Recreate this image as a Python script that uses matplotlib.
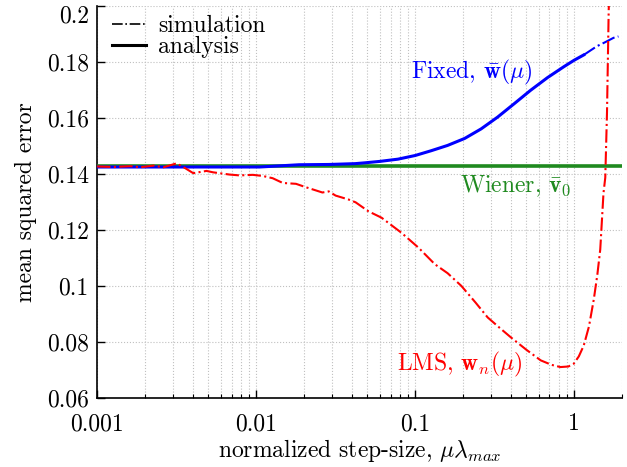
import matplotlib
matplotlib.use("Agg")
import matplotlib.pyplot as plt
from matplotlib.ticker import FixedLocator, LogLocator, NullFormatter

plt.rcParams['font.family'] = 'serif'
plt.rcParams['font.serif'] = ['cmr10', 'DejaVu Serif']
plt.rcParams['mathtext.fontset'] = 'cm'
plt.rcParams['axes.unicode_minus'] = False
plt.rcParams['axes.formatter.use_mathtext'] = True

# LMS simulation (red, dash-dot)
lms_mu = [0.001, 0.00127, 0.00162, 0.00186, 0.00226, 0.00261, 0.00316, 0.00348, 0.00402, 0.00487,
          0.00536, 0.00681, 0.00786, 0.00953, 0.011, 0.0127, 0.0147, 0.0178, 0.0205, 0.0261,
          0.0286, 0.0316, 0.0381, 0.0422, 0.0508, 0.0615, 0.0821, 0.105, 0.133, 0.16,
          0.195, 0.24, 0.286, 0.34, 0.40, 0.50, 0.616, 0.72, 0.82, 0.92,
          0.995, 1.07, 1.15, 1.24, 1.33, 1.40, 1.46, 1.53, 1.57, 1.61,
          1.65, 1.68]
lms_mse = [0.1426, 0.1424, 0.1427, 0.1423, 0.1429, 0.1423, 0.1437, 0.1424, 0.1402, 0.1410,
           0.1405, 0.1397, 0.1394, 0.1396, 0.1392, 0.1384, 0.1367, 0.1364, 0.1352, 0.1333,
           0.1337, 0.1322, 0.1308, 0.1298, 0.1266, 0.1243, 0.1189, 0.1136, 0.1077, 0.1045,
           0.1000, 0.0940, 0.0887, 0.0850, 0.0816, 0.0772, 0.0734, 0.0718, 0.0710, 0.0712,
           0.0722, 0.0748, 0.0787, 0.0855, 0.0952, 0.1040, 0.1130, 0.1331, 0.1386, 0.1620,
           0.1985, 0.2100]

# Fixed analysis (blue, solid)
fix_mu = [0.001, 0.002, 0.005, 0.0105, 0.014, 0.0186, 0.0286, 0.042, 0.0485, 0.06,
          0.078, 0.1, 0.126, 0.16, 0.205, 0.26, 0.33, 0.42, 0.533, 0.68,
          0.862, 1.0, 1.15]
fix_mse = [0.1424, 0.1424, 0.1424, 0.1424, 0.1428, 0.1432, 0.1433, 0.1436, 0.1439, 0.1444,
           0.1452, 0.1465, 0.1482, 0.1501, 0.1526, 0.1560, 0.1602, 0.1650, 0.1698, 0.1743,
           0.1782, 0.1805, 0.1824]

# Fixed simulation tail (blue, dash-dot)
fixsim_mu = [1.15, 1.39, 1.55, 1.77, 1.9]
fixsim_mse = [0.1824, 0.1855, 0.1868, 0.1885, 0.1890]

# Wiener analysis (green, solid)
wiener_mu = [0.001, 2.0]
wiener_mse = [0.1429, 0.1429]

fig = plt.figure(figsize=(6.27, 4.67), dpi=100)
ax = fig.add_axes([0.155, 0.148, 0.837, 0.84])

ax.plot(wiener_mu, wiener_mse, color='#1f8a1f', lw=2.6, solid_capstyle='butt', zorder=3)
ax.plot(fix_mu, fix_mse, color='#0000ff', lw=2.2, zorder=4)
ax.plot(fixsim_mu, fixsim_mse, color='#0000ff', lw=1.5, ls='-.', zorder=4)
ax.plot(lms_mu, lms_mse, color='#ff0000', lw=1.5, ls='-.', zorder=5)

# legend entries
ax.plot([], [], color='black', lw=1.2, ls='-.', label='simulation')
ax.plot([], [], color='black', lw=2.2, ls='-', label='analysis')
leg = ax.legend(loc='upper left', frameon=False, fontsize=17, handlelength=1.45,
                borderaxespad=0.0, labelspacing=-0.05, handletextpad=0.5,
                bbox_to_anchor=(0.01, 1.0))

ax.set_xscale('log')
ax.set_xlim(0.001, 2.0)
ax.set_ylim(0.06, 0.2)
ax.xaxis.set_major_locator(FixedLocator([0.001, 0.01, 0.1, 1]))
ax.set_xticklabels(['0.001', '0.01', '0.1', '1'])
ax.xaxis.set_minor_locator(LogLocator(base=10, subs=[2, 3, 4, 5, 6, 7, 8, 9], numticks=20))
ax.xaxis.set_minor_formatter(NullFormatter())
yt = [0.06, 0.08, 0.1, 0.12, 0.14, 0.16, 0.18, 0.2]
ax.set_yticks(yt)
ax.set_yticklabels(['0.06', '0.08', '0.1', '0.12', '0.14', '0.16', '0.18', '0.2'])

ax.tick_params(axis='both', which='both', direction='in', labelsize=17, top=False, right=False)
ax.tick_params(axis='both', which='major', length=6, width=1.0)
ax.tick_params(axis='y', which='major', pad=6)
ax.tick_params(axis='x', which='major', pad=11)
ax.tick_params(axis='x', which='minor', length=3, width=0.8)
ax.spines['top'].set_visible(False)
ax.spines['right'].set_visible(False)
ax.spines['left'].set_linewidth(1.2)
ax.spines['bottom'].set_linewidth(1.2)

# keep the top y label inside the picture
ylabs = ax.get_yticklabels()
ylabs[-1].set_verticalalignment('top')
ylabs[-1].set_y(1.0)

ax.grid(True, which='major', axis='both', ls=':', color='#c0c0c0', lw=0.8)
ax.grid(True, which='minor', axis='x', ls=':', color='#c0c0c0', lw=0.8)

ax.set_xlabel(r'normalized step-size, $\mu\lambda_{max}$', fontsize=17, labelpad=1)
ax.set_ylabel('mean squared error', fontsize=17, labelpad=7)

ax.text(0.227, 0.176, r'Fixed, $\bar{\mathbf{w}}(\mu)$', color='#0000ff', fontsize=17,
        ha='center', va='center')
ax.text(0.43, 0.1357, r'Wiener, $\bar{\mathbf{v}}_0$', color='#1f8a1f', fontsize=17,
        ha='center', va='center')
ax.text(0.19, 0.0721, r'LMS, $\mathbf{w}_n(\mu)$', color='#ff0000', fontsize=17,
        ha='center', va='center')

fig.savefig('out.png', dpi=100)
